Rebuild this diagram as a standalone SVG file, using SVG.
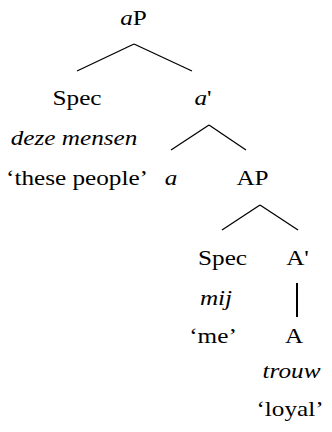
<svg xmlns="http://www.w3.org/2000/svg" width="332" height="432" viewBox="0 0 332 432">
<style>
.t text{font-size:21px;fill:#000;text-anchor:middle}
.i{font-style:italic}
#connectors line{stroke:#000;stroke-width:1.3}
</style>
<rect width="332" height="432" fill="#fff"/>
<g id="connectors">
<line x1="134" y1="44" x2="77" y2="71"/>
<line x1="134" y1="44" x2="192" y2="71"/>
<line x1="209" y1="125" x2="171" y2="150"/>
<line x1="209" y1="125" x2="246" y2="150"/>
<line x1="260" y1="205" x2="222" y2="230"/>
<line x1="260" y1="205" x2="298" y2="230"/>
<line x1="297" y1="283" x2="297" y2="317" style="stroke-width:2"/>
</g>
<g class="t" font-family="Liberation Serif, DejaVu Serif, serif">
<g id="aP"><text transform="translate(133.5,25) scale(1.2,1)"><tspan class="i">a</tspan>P</text></g>
<g id="spec1"><text transform="translate(77,105) scale(1.2,1)">Spec</text>
<text class="i" transform="translate(74,145) scale(1.2,1)">deze mensen</text>
<text transform="translate(77,185) scale(1.2,1)">‘these people’</text></g>
<g id="abar"><text transform="translate(203,105) scale(1.2,1)"><tspan class="i">a</tspan>'</text></g>
<g id="a"><text class="i" transform="translate(171,185) scale(1.2,1)">a</text></g>
<g id="AP"><text transform="translate(252.5,185) scale(1.2,1)">AP</text></g>
<g id="spec2"><text transform="translate(222.5,265) scale(1.2,1)">Spec</text>
<text class="i" transform="translate(216,305) scale(1.2,1)">mij</text>
<text transform="translate(213,343) scale(1.2,1)">‘me’</text></g>
<g id="Abar"><text transform="translate(297.5,265) scale(1.2,1)">A'</text></g>
<g id="A"><text transform="translate(294,343) scale(1.2,1)">A</text>
<text class="i" transform="translate(291.5,378) scale(1.2,1)">trouw</text>
<text transform="translate(290,416) scale(1.2,1)">‘loyal’</text></g>
</g>
</svg>
